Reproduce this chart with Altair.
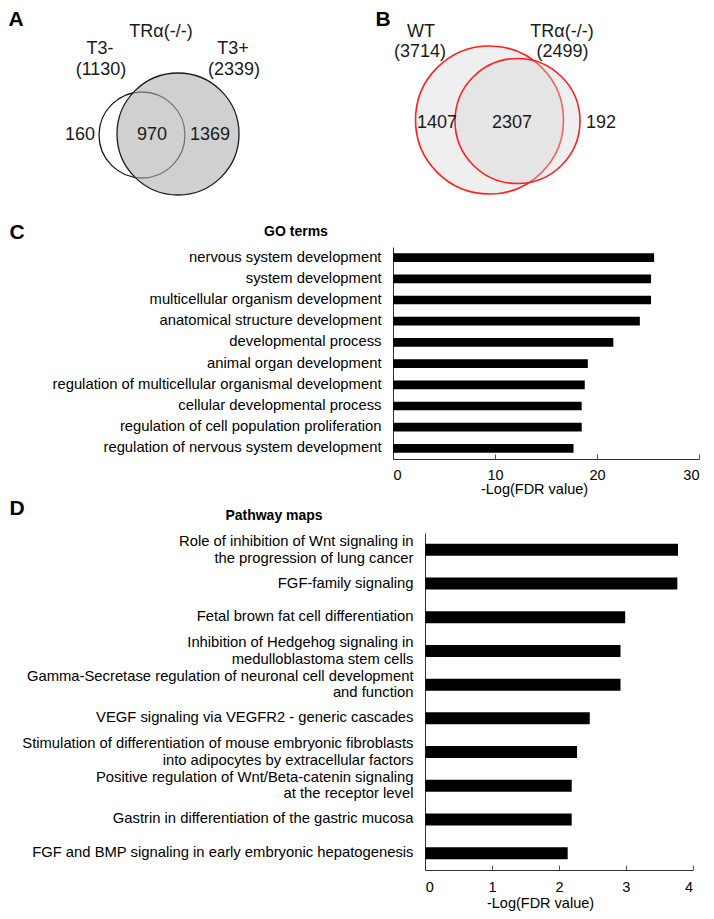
import altair as alt
import pandas as pd

# ---------------- Venn diagrams (panels A and B) ----------------
venn_sets = ["T3-", "T3+", "WT", "TRα(-/-)"]
venn_cx = [142, 178, 489.5, 517.5]
venn_cy = [135, 134, 120, 121]
venn_r = [43, 61, 74, 62.5]

venn_text = ["TRα(-/-)", "T3-", "(1130)", "T3+", "(2339)", "160", "970", "1369",
             "WT", "(3714)", "TRα(-/-)", "(2499)", "1407", "2307", "192"]
venn_tx = [161, 100, 101, 233, 234, 80, 152, 210, 421, 420, 562, 562.5, 437, 512, 601]
venn_ty = [32, 49, 70, 49, 70, 135, 135, 135, 32, 52, 32, 52, 123, 123, 123]

# ---------------- Panel letters and headings ----------------
letters = ["A", "B", "C", "D"]
letter_x = [16, 383, 17, 17]
letter_y = [19.5, 19.5, 233, 509]

headings = ["GO terms", "Pathway maps"]
heading_x = [296, 274]
heading_y = [232, 516]

# ---------------- Panel C: GO terms ----------------
go_terms = [
    "nervous system development",
    "system development",
    "multicellular organism development",
    "anatomical structure development",
    "developmental process",
    "animal organ development",
    "regulation of multicellular organismal development",
    "cellular developmental process",
    "regulation of cell population proliferation",
    "regulation of nervous system development",
]
go_values = [25.6, 25.3, 25.3, 24.2, 21.6, 19.1, 18.8, 18.5, 18.5, 17.7]
go_ticks = [0, 10, 20, 30]

# ---------------- Panel D: Pathway maps ----------------
pathways = [
    "Role of inhibition of Wnt signaling in\nthe progression of lung cancer",
    "FGF-family signaling",
    "Fetal brown fat cell differentiation",
    "Inhibition of Hedgehog signaling in\nmedulloblastoma stem cells",
    "Gamma-Secretase regulation of neuronal cell development\nand function",
    "VEGF signaling via VEGFR2 - generic cascades",
    "Stimulation of differentiation of mouse embryonic fibroblasts\ninto adipocytes by extracellular factors",
    "Positive regulation of Wnt/Beta-catenin signaling\nat the receptor level",
    "Gastrin in differentiation of the gastric mucosa",
    "FGF and BMP signaling in early embryonic hepatogenesis",
]
pathway_values = [3.78, 3.77, 2.99, 2.92, 2.92, 2.46, 2.27, 2.19, 2.19, 2.13]
pw_ticks = [0, 1, 2, 3, 4]

FONT = "Liberation Sans"
W, H = 698, 903
LABEL_FS = 14.8

# page-coordinate scales (page pixel -> chart pixel, 8px page margin)
px = alt.Scale(domain=[8, 8 + W], range=[0, W], nice=False, zero=False)
py = alt.Scale(domain=[8, 8 + H], range=[0, H], nice=False, zero=False)

venn_df = pd.DataFrame({"set": venn_sets, "cx": venn_cx, "cy": venn_cy, "r": venn_r})
venn_df["s"] = (2 * venn_df["r"]) ** 2


def circle(set_name, **style):
    return (
        alt.Chart(venn_df)
        .transform_filter(alt.datum.set == set_name)
        .mark_point(shape="circle", filled=True, opacity=1, **style)
        .encode(
            x=alt.X("cx:Q", scale=px, axis=None),
            y=alt.Y("cy:Q", scale=py, axis=None),
            size=alt.Size("s:Q", scale=None, legend=None),
        )
    )


a_small = circle("T3-", fill="white", stroke="#1a1a1a", strokeWidth=1.3)
a_big = circle("T3+", fill="#b0b0b0", fillOpacity=0.6, stroke="#1a1a1a", strokeWidth=1.3)
b_wt = circle("WT", fill="#efefef", stroke="#ff1f1f", strokeWidth=1.6)
b_tr = circle("TRα(-/-)", fill="#d6d6d6", fillOpacity=0.38, stroke="#ff1f1f", strokeWidth=1.6)

venn_labels = (
    alt.Chart(pd.DataFrame({"t": venn_text, "x": venn_tx, "y": venn_ty}))
    .mark_text(font=FONT, fontSize=18, color="#1a1a1a", baseline="middle", align="center")
    .encode(x=alt.X("x:Q", scale=px, axis=None), y=alt.Y("y:Q", scale=py, axis=None), text="t:N")
)

letter_layer = (
    alt.Chart(pd.DataFrame({"t": letters, "x": letter_x, "y": letter_y}))
    .mark_text(font=FONT, fontSize=21, fontWeight="bold", color="black", baseline="middle", align="center")
    .encode(x=alt.X("x:Q", scale=px, axis=None), y=alt.Y("y:Q", scale=py, axis=None), text="t:N")
)

heading_layer = (
    alt.Chart(pd.DataFrame({"t": headings, "x": heading_x, "y": heading_y}))
    .mark_text(font=FONT, fontSize=14, fontWeight="bold", color="black", baseline="middle", align="center")
    .encode(x=alt.X("x:Q", scale=px, axis=None), y=alt.Y("y:Q", scale=py, axis=None), text="t:N")
)

axis_common = dict(
    grid=False,
    domainColor="#333333",
    domainWidth=1,
    tickColor="#555555",
    labelFont=FONT,
    labelColor="black",
    titleFont=FONT,
    titleColor="black",
    titleFontWeight="normal",
)

bar_c = (
    alt.Chart(pd.DataFrame({"term": go_terms, "value": go_values}))
    .mark_bar(color="black")
    .encode(
        x=alt.X(
            "value:Q",
            scale=alt.Scale(domain=[0, 30], range=[385, 691], nice=False),
            axis=alt.Axis(
                orient="bottom", offset=-452, values=go_ticks, tickSize=alt.ExprRef(expr="-5"),
                labelFontSize=14.5, labelPadding=14, labelBaseline="top",
                title="-Log(FDR value)", titleFontSize=14.5, titleX=526, titleY=30,
                titleBaseline="middle", titleAlign="center", titleAnchor="start", **axis_common,
            ),
        ),
        y=alt.Y(
            "term:N", sort=go_terms,
            scale=alt.Scale(range=[239, 451], paddingInner=0.59, paddingOuter=0.295),
            axis=alt.Axis(
                orient="left", offset=-385, ticks=False, labelPadding=12, labelLimit=600,
                labelFontSize=LABEL_FS, title=None, **axis_common,
            ),
        ),
    )
)

bar_d = (
    alt.Chart(pd.DataFrame({"pathway": pathways, "value": pathway_values}))
    .mark_bar(color="black")
    .encode(
        x=alt.X(
            "value:Q",
            scale=alt.Scale(domain=[0, 4], range=[417.3, 684.7], nice=False),
            axis=alt.Axis(
                orient="bottom", offset=-41, values=pw_ticks, tickSize=alt.ExprRef(expr="-5"),
                labelFontSize=14.5, labelPadding=15, labelBaseline="top",
                title="-Log(FDR value)", titleFontSize=14.5, titleX=532, titleY=33.5,
                titleBaseline="middle", titleAlign="center", titleAnchor="start", **axis_common,
            ),
        ),
        y=alt.Y(
            "pathway:N", sort=pathways,
            scale=alt.Scale(range=[525, 862], paddingInner=0.644, paddingOuter=0.322),
            axis=alt.Axis(
                orient="left", offset=-417, ticks=False, labelPadding=12, labelLimit=700,
                labelFontSize=LABEL_FS, labelLineHeight=16.7,
                labelBaseline={
                    "condition": {"test": "indexof(datum.value, '\\n') >= 0", "value": "line-bottom"},
                    "value": "middle",
                },
                labelExpr="split(datum.label, '\\n')", title=None, **axis_common,
            ),
        ),
    )
)

chart = (
    alt.layer(a_small, a_big, b_wt, b_tr, venn_labels, letter_layer, heading_layer, bar_c, bar_d)
    .resolve_scale(x="independent", y="independent", size="independent")
    .resolve_axis(x="independent", y="independent")
    .properties(width=W, height=H, padding=0, autosize=alt.AutoSizeParams(type="none"),
                background="white")
    .configure_view(stroke=None)
)

chart.save("out.html", embed_options={"renderer": "svg", "actions": False})
